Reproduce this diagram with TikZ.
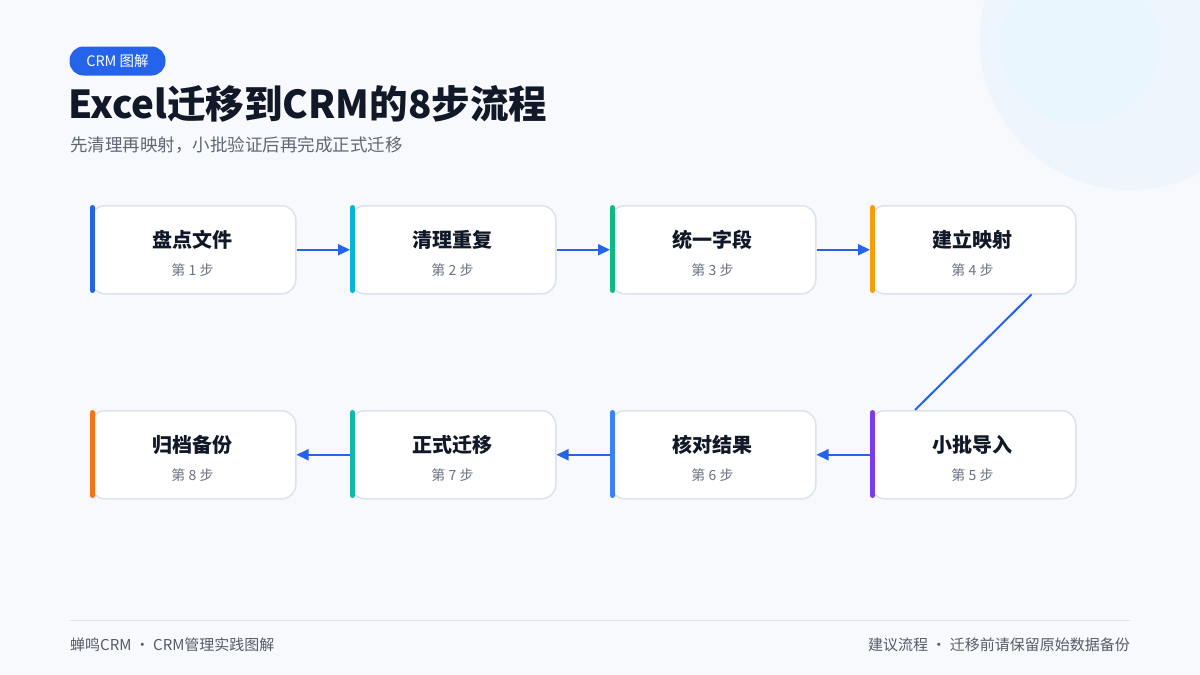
\documentclass[tikz,border=0pt]{standalone}
\usepackage{fontspec}
\setmainfont{Noto Sans CJK SC}
\usetikzlibrary{arrows.meta}
\definecolor{bg}{HTML}{F7F9FC}
\definecolor{pri}{HTML}{2563EB}
\definecolor{ink}{HTML}{111827}
\definecolor{gry}{HTML}{6B7280}
\definecolor{bord}{HTML}{DCE3EE}
\definecolor{circA}{HTML}{EEF5FD}
\definecolor{circB}{HTML}{E9F6FE}
\begin{document}
\begin{tikzpicture}[x=1pt,y=-1pt,
 box/.style={draw=bord,line width=1.5pt,fill=white,rounded corners=14pt,minimum width=205pt,minimum height=88pt,anchor=north west},
 ttl/.style={font=\fontsize{20}{22}\selectfont\bfseries,text=ink},
 stp/.style={font=\fontsize{14}{15}\selectfont,text=gry},
 arr/.style={draw=pri,line width=2pt,-{Triangle[length=12pt,width=11pt]}}]
\fill[bg] (0,0) rectangle (1200,675);
\useasboundingbox (0,0) rectangle (1200,675);
\fill[circA] (1130,40) circle (150);
\fill[circB] (1080,45) circle (80);
\node[fill=pri,rounded corners=14pt,minimum width=96pt,minimum height=29pt,text=white,font=\fontsize{14.5}{16}\selectfont] (pill) at (117.5,61) {CRM 图解};
\node[anchor=west,font=\fontsize{38.5}{42}\selectfont\bfseries,text=ink,inner sep=0] (title) at (68,104) {Excel迁移到CRM的8步流程};
\node[anchor=west,font=\fontsize{17.5}{20}\selectfont,text=gry!90!black,inner sep=0] (sub) at (70,145) {先清理再映射，小批验证后再完成正式迁移};
\foreach \i/\x/\y/\t/\c in {1/90/205/盘点文件/2563EB,2/350/205/清理重复/06B6D4,3/610/205/统一字段/10B981,4/870/205/建立映射/F59E0B,5/870/410/小批导入/7C3AED,6/610/410/核对结果/3B82F6,7/350/410/正式迁移/14B8A6,8/90/410/归档备份/F97316}{
 \node[box] (b\i) at (\x,\y) {};
 \definecolor{acc}{HTML}{\c}
 \draw[acc,line width=5pt,line cap=round] (\x+2.5,\y+2.5) -- (\x+2.5,\y+85.5);
 \node[ttl] (t\i) at (\x+102.5,\y+35) {\t};
 \node[stp] (s\i) at (\x+102.5,\y+65) {第 \i{} 步};
}
\draw[arr] (b1.east) -- (b2.west);
\draw[arr] (b2.east) -- (b3.west);
\draw[arr] (b3.east) -- (b4.west);
\draw[draw=pri,line width=2pt] ([xshift=-45pt]b4.south east) -- ([xshift=45pt]b5.north west);
\draw[arr] (b5.west) -- (b6.east);
\draw[arr] (b6.west) -- (b7.east);
\draw[arr] (b7.west) -- (b8.east);
\coordinate (fl) at (70,620); \coordinate (fr) at (1130,620);
\draw[bord,line width=1pt] (fl) -- (fr);
\node[anchor=west,font=\fontsize{15}{16}\selectfont,text=gry!80!black,inner sep=0] (fa) at (70,645) {蝉鸣CRM · CRM管理实践图解};
\node[anchor=east,font=\fontsize{15}{16}\selectfont,text=gry!80!black,inner sep=0] (fb) at (1130,645) {建议流程 · 迁移前请保留原始数据备份};
\end{tikzpicture}
\end{document}
